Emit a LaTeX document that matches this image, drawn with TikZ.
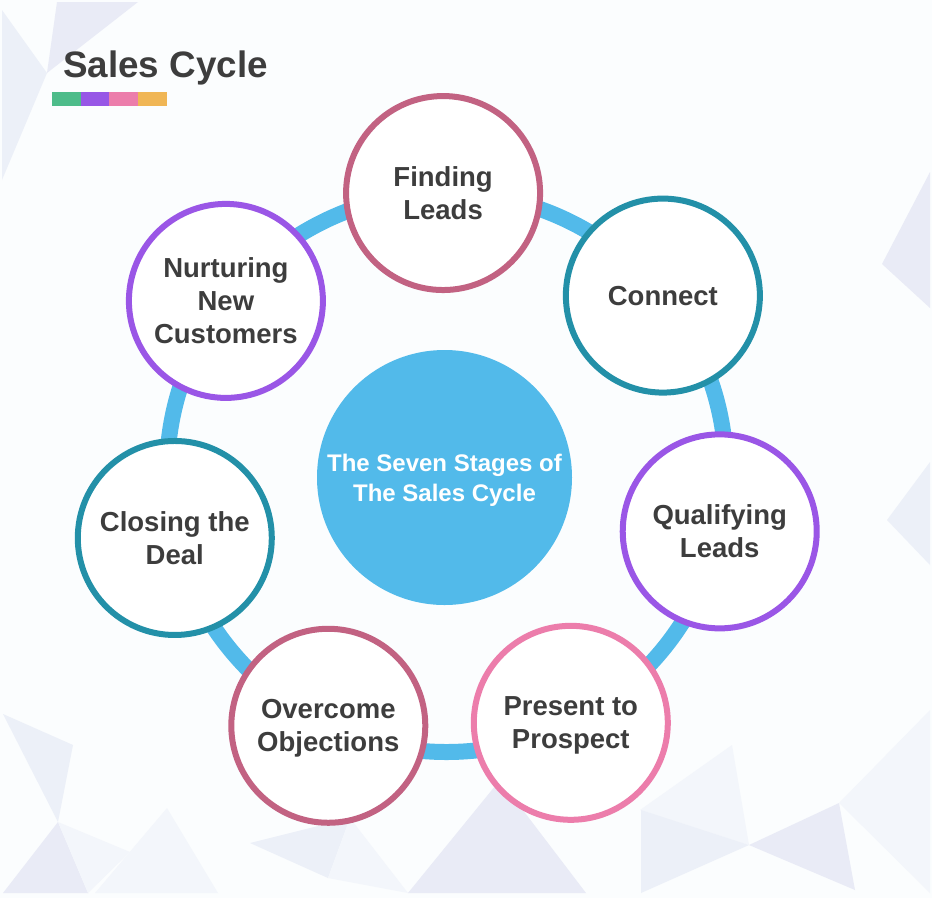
\documentclass[tikz,border=0pt]{standalone}
\usepackage{fontspec}
\setmainfont{Liberation Sans}
\usetikzlibrary{positioning, calc}
\definecolor{ringblue}{HTML}{52BAEA}
\definecolor{stagerose}{HTML}{C26282}
\definecolor{stageteal}{HTML}{2390A8}
\definecolor{stageviolet}{HTML}{9A56E6}
\definecolor{stagepink}{HTML}{EC7DAB}
\definecolor{bargreen}{HTML}{4DBC8A}
\definecolor{barviolet}{HTML}{9757E6}
\definecolor{barpink}{HTML}{EC7DAB}
\definecolor{barorange}{HTML}{F0B655}
\definecolor{inkgray}{HTML}{3D3D3D}
\definecolor{paper}{HTML}{FBFDFE}
\definecolor{shadeA}{HTML}{E9EBF6}
\definecolor{shadeB}{HTML}{ECF0F8}
\definecolor{shadeC}{HTML}{F3F6FB}
\tikzset{stage node/.style={circle, draw, line width=6pt, fill=white, minimum size=194pt, inner sep=0pt, align=center, text=inkgray, font=\fontsize{27.5}{33}\selectfont\bfseries, text depth=0pt},}

\begin{document}
\begin{tikzpicture}[x=1pt, y=-1pt]
				\useasboundingbox (0,0) rectangle (932,898);
				% Background
				\fill[paper] (0,0) rectangle (932,898);
				\fill[shadeA] (57,2) -- (138,2) -- (47,73) -- cycle;
				\fill[shadeB] (2,10) -- (47,73) -- (2,180) -- cycle;
				\fill[shadeB] (3,714) -- (73,745) -- (58,822) -- cycle;
				\fill[shadeA] (58,822) -- (3,893) -- (88,893) -- cycle;
				\fill[shadeC] (58,822) -- (130,852) -- (88,893) -- cycle;
				\fill[shadeC] (167,808) -- (218,893) -- (95,893) -- cycle;
				\fill[shadeB] (250,843) -- (350,818) -- (328,878) -- cycle;
				\fill[shadeC] (350,818) -- (408,893) -- (328,878) -- cycle;
				\fill[shadeA] (408,893) -- (500,780) -- (586,893) -- cycle;
				\fill[shadeC] (640,810) -- (732,745) -- (749,845) -- cycle;
				\fill[shadeB] (641,810) -- (749,845) -- (641,893) -- cycle;
				\fill[shadeA] (749,845) -- (839,803) -- (855,890) -- cycle;
				\fill[shadeC] (839,803) -- (930,710) -- (930,893) -- cycle;
				\fill[shadeA] (930,172) -- (882,264) -- (930,308) -- cycle;
				\fill[shadeB] (930,462) -- (887,520) -- (930,565) -- cycle;
				% Title
				\node[anchor=base west, inner sep=0pt, text=inkgray, font=\fontsize{36.8}{42}\selectfont\bfseries] (title) at (63,77) {Sales Cycle};
				\fill[bargreen] (52,92) rectangle (81,106);
				\fill[barviolet] (81,92) rectangle (109,106);
				\fill[barpink] (109,92) rectangle (138,106);
				\fill[barorange] (138,92) rectangle (167,106);
				% Ring
				\coordinate (ring) at (446.5,472.5);
				\draw[ringblue, line width=16pt] (ring) circle[radius=279.5pt];
				% Grids
				\node[circle, fill=ringblue, minimum size=255pt, inner sep=0pt, align=center, text=white, font=\fontsize{24}{30}\selectfont\bfseries, text depth=0pt] (0) at (444.5,477.5) {The Seven Stages of\\The Sales Cycle};
				\node[stage node, draw=stagerose] (1) at ($(ring)+(-90.7:279.5)$) {Finding\\Leads};
				\node[stage node, draw=stageteal] (2) at ($(ring)+(-39.27:279.5)$) {Connect};
				\node[stage node, draw=stageviolet] (3) at ($(ring)+(12.16:279.5)$) {Qualifying\\Leads};
				\node[stage node, draw=stagepink] (4) at ($(ring)+(63.59:279.5)$) {Present to\\Prospect};
				\node[stage node, draw=stagerose] (5) at ($(ring)+(115.02:279.5)$) {Overcome\\Objections};
				\node[stage node, draw=stageteal] (6) at ($(ring)+(166.45:279.5)$) {Closing the\\Deal};
				\node[stage node, draw=stageviolet] (7) at ($(ring)+(217.88:279.5)$) {Nurturing\\New\\Customers};
			\end{tikzpicture}
\end{document}
